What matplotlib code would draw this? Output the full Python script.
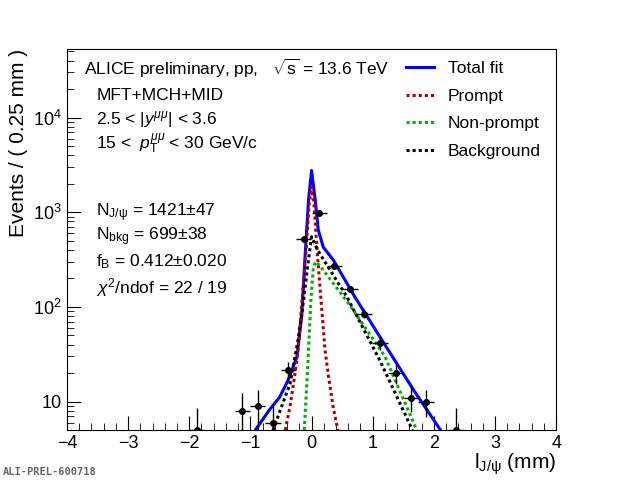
import numpy as np
import matplotlib.pyplot as plt
from matplotlib.ticker import LogLocator, NullFormatter, FixedLocator, MultipleLocator

plt.rcParams['font.family'] = ['Liberation Sans', 'DejaVu Sans']
plt.rcParams['mathtext.fontset'] = 'custom'
plt.rcParams['mathtext.rm'] = 'Liberation Sans'
plt.rcParams['mathtext.it'] = 'Liberation Sans:italic'

# data points
data_x = [-1.88, -1.13, -0.88, -0.63, -0.38, -0.13, 0.13, 0.37, 0.63, 0.86, 1.12, 1.38, 1.63, 1.87, 2.37]
data_y = [5.0, 8.0, 9.0, 6.0, 21.3, 525, 980, 270, 155, 85, 41.7, 20, 11, 10, 5.0]
data_err = [3.5, 4.2, 4.4, 3.7, 4.6, 23, 31, 16, 12.5, 9.2, 6.5, 4.5, 3.3, 3.2, 3.5]

# fit components
total_x = [-0.91, -0.7, -0.52, -0.38, -0.24, -0.16, -0.11, -0.05, 0.0, 0.06, 0.11, 0.19, 0.36, 0.7, 1.12, 1.67, 2.1]
total_y = [5.1, 8.0, 11.2, 17, 29.7, 80, 310, 1340, 2760, 1340, 650, 430, 310, 130, 48, 13.2, 5.1]
prompt_x = [-0.43, -0.35, -0.28, -0.22, -0.15, -0.09, -0.04, 0.0, 0.04, 0.09, 0.15, 0.22, 0.28, 0.35, 0.43]
prompt_y = [5, 9, 18, 35, 130, 400, 1200, 1860, 1200, 400, 130, 35, 18, 9, 5]
nonprompt_x = [-0.12, -0.08, -0.05, -0.01, 0.03, 0.07, 0.15, 0.6, 1.2, 1.72]
nonprompt_y = [5, 14, 35, 120, 265, 300, 265, 110, 30, 5]
bkg_x = [-0.63, -0.5, -0.35, -0.22, -0.13, -0.06, 0.0, 0.06, 0.14, 0.58, 1.12, 1.65]
bkg_y = [5, 8.5, 15.6, 45, 118, 280, 550, 450, 360, 127, 27, 5]

fig = plt.figure(figsize=(6.2, 4.8), dpi=100)
ax = fig.add_axes([0.108, 0.104, 0.789, 0.794])

ax.plot(total_x, total_y, color='#0000ff', lw=2.2, label='Total fit')
ax.plot(prompt_x, prompt_y, color='#b00000', lw=2.2, ls=(0, (1, 1)), label='Prompt')
ax.plot(nonprompt_x, nonprompt_y, color='#00b000', lw=2.2, ls=(0, (1, 1)), label='Non-prompt')
ax.plot(bkg_x, bkg_y, color='black', lw=2.2, ls=(0, (1, 1)), label='Background')
ax.errorbar(data_x, data_y, xerr=0.125, yerr=data_err, fmt='o', color='black',
            ms=4, lw=1, capsize=0, clip_on=True)

ax.set_yscale('log')
ax.set_xlim(-4, 4)
ax.set_ylim(5, 5.3e4)
ax.xaxis.set_major_locator(MultipleLocator(1))
ax.xaxis.set_minor_locator(MultipleLocator(0.2))
ax.yaxis.set_major_locator(FixedLocator([10, 100, 1000, 10000]))
ax.yaxis.set_minor_locator(LogLocator(subs=np.arange(2, 10)))
ax.yaxis.set_minor_formatter(NullFormatter())
ax.set_yticklabels(['10', '$10^2$', '$10^3$', '$10^4$'])
ax.tick_params(which='both', direction='in', top=False, right=False, labelsize=13)
ax.tick_params(which='major', length=10)
ax.tick_params(which='minor', length=5)

ax.set_ylabel('Events / ( 0.25 mm )', fontsize=15, loc='top')
ax.set_xlabel(r'l$_{\mathrm{J/\psi}}$ (mm)', fontsize=15, loc='right', labelpad=0)

ax.legend(loc='upper right', frameon=False, fontsize=12.5, handlelength=1.6,
          bbox_to_anchor=(1.0, 1.01), labelspacing=0.72)

lines = [
    (0.035, 0.95, r'ALICE preliminary, pp,   $\sqrt{\mathrm{s}}$ = 13.6 TeV'),
    (0.06, 0.877, 'MFT+MCH+MID'),
    (0.06, 0.814, r'2.5 < |$y^{\mu\mu}$| < 3.6'),
    (0.06, 0.75, r'15 <  $p_{\mathrm{T}}^{\mu\mu}$ < 30 GeV/c'),
    (0.06, 0.57, r'N$_{\mathrm{J/\psi}}$ = 1421$\pm$47'),
    (0.06, 0.507, r'N$_{\mathrm{bkg}}$ = 699$\pm$38'),
    (0.06, 0.441, r'f$_{\mathrm{B}}$ = 0.412$\pm$0.020'),
    (0.06, 0.375, r'$\chi^2$/ndof = 22 / 19'),
]
for x, y, s in lines:
    ax.text(x, y, s, transform=ax.transAxes, fontsize=12.5, va='center')

fig.text(0.005, 0.01, 'ALI-PREL-600718', family='DejaVu Sans Mono', fontweight='bold',
         color='#666666', fontsize=7.5)

fig.savefig('out.png', dpi=100)
